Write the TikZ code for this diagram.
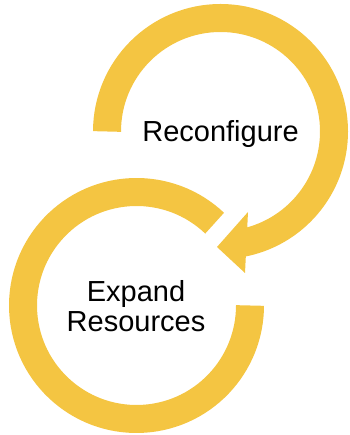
\documentclass[tikz,border=0pt]{standalone}
\usepackage{tikz}
\usepackage{xcolor}
\usepackage{fontspec}
\setmainfont{Liberation Sans}
\definecolor{gold}{RGB}{244,197,66}

\begin{document}
\begin{tikzpicture}[x=1pt,y=1pt]
	\tikzstyle{ring} = [draw=gold, line width=28pt]
	\tikzstyle{caption} = [font=\fontsize{29}{30}\selectfont, align=center, inner sep=0pt]
	\useasboundingbox (0,0) rectangle (349,435);
		\coordinate (top) at (220.5,303.5);
		\coordinate (bot) at (136.5,129.5);
		\coordinate (tip) at (217,188);
		\coordinate (wa) at (248,223);
		\coordinate (wb) at (245,162);
	% upper loop with its head
	\draw[ring] (top) ++(180:113.5) arc[start angle=180, end angle=-80, radius=113.5pt];
	\fill[gold] (wa) -- (tip) -- (wb) -- cycle;
	% lower loop
	\draw[ring] (bot) ++(46.5:113.5) arc[start angle=46.5, end angle=360, radius=113.5pt];
		\node[caption, anchor=base] (reconf) at (220.5,293.5) {Reconfigure};
		\node[caption, anchor=base] (expand) at (136,103) {Expand\\Resources};
\end{tikzpicture}
\end{document}
